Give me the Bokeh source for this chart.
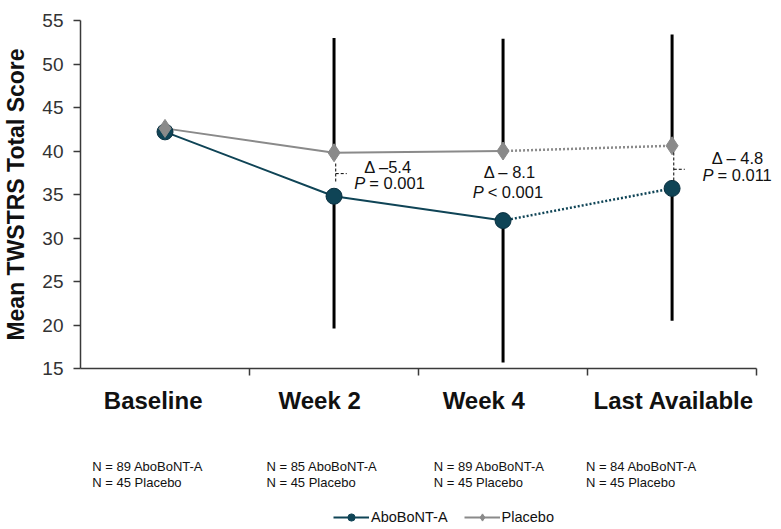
from bokeh.plotting import figure
from bokeh.layouts import column
from bokeh.models import Range1d, FixedTicker, Label, Legend, LegendItem
from bokeh.embed import file_html
from bokeh.resources import INLINE

# ---------------- data ----------------
categories = ["Baseline", "Week 2", "Week 4", "Last Available"]
abo_mean = [42.2, 34.8, 32.0, 35.7]
placebo_mean = [42.6, 39.8, 40.0, 40.6]
placebo_upper = [53.0, 52.9, 53.4]   # Week 2, Week 4, Last Available (upper SD, placebo)
abo_lower = [19.6, 15.7, 20.5]       # Week 2, Week 4, Last Available (lower SD, AboBoNT-A)
n_abo = [89, 85, 89, 84]
n_placebo = [45, 45, 45, 45]
delta_text = ["\u0394 \u20135.4", "\u0394 \u2013 8.1", "\u0394 \u2013 4.8"]
p_text = ["= 0.001", "< 0.001", "= 0.011"]
y_ticks = [15, 20, 25, 30, 35, 40, 45, 50, 55]

FONT = "Liberation Sans"
ABO = "#0f4456"
PLA = "#8a8a8a"
AXC = "#3a3a3a"
TXT = "#111111"

xs = [i + 0.5 for i in range(len(categories))]
label_x = [0.43, 1.415, 2.386, 3.51]   # where the category names sit

xr = Range1d(0, 4.1)

p = figure(width=773, height=420, output_backend="svg", toolbar_location=None,
           x_range=xr, y_range=Range1d(15, 55),
           min_border_left=72, min_border_right=0, min_border_top=20, min_border_bottom=52)
p.outline_line_color = None
p.grid.visible = False

# y axis
ya = p.yaxis[0]
ya.ticker = FixedTicker(ticks=y_ticks)
ya.axis_line_color = AXC
ya.axis_line_width = 1.5
ya.major_tick_line_color = AXC
ya.major_tick_line_width = 1.5
ya.major_tick_out = 7
ya.major_tick_in = 0
ya.minor_tick_line_color = None
ya.major_label_text_font = FONT
ya.major_label_text_font_size = "19px"
ya.major_label_text_color = "#333333"
ya.major_label_standoff = 10
ya.axis_label = "Mean TWSTRS Total Score"
ya.axis_label_text_font = FONT
ya.axis_label_text_font_style = "bold"
ya.axis_label_text_font_size = "23px"
ya.axis_label_text_color = TXT
ya.axis_label_standoff = 10

# x axis
xa = p.xaxis[0]
xa.bounds = (0, 4)
xa.ticker = FixedTicker(ticks=label_x, minor_ticks=[1, 2, 3, 4])
xa.major_label_overrides = {x: c for x, c in zip(label_x, categories)}
xa.axis_line_color = AXC
xa.axis_line_width = 1.5
xa.major_tick_out = 0
xa.major_tick_in = 0
xa.minor_tick_line_color = AXC
xa.minor_tick_line_width = 1.5
xa.minor_tick_out = 7
xa.minor_tick_in = 0
xa.major_label_text_font = FONT
xa.major_label_text_font_style = "bold"
xa.major_label_text_font_size = "24px"
xa.major_label_text_color = TXT
xa.major_label_standoff = 11

# error bars (placebo upward, AboBoNT-A downward)
p.segment(x0=xs[1:], y0=placebo_mean[1:], x1=xs[1:], y1=placebo_upper,
          line_color="black", line_width=3)
p.segment(x0=xs[1:], y0=abo_mean[1:], x1=xs[1:], y1=abo_lower,
          line_color="black", line_width=3)

# lines
p.line(xs[:3], abo_mean[:3], line_color=ABO, line_width=2)
p.line(xs[2:], abo_mean[2:], line_color=ABO, line_width=2.5, line_dash="2 2")
p.line(xs[:3], placebo_mean[:3], line_color=PLA, line_width=2)
p.line(xs[2:], placebo_mean[2:], line_color=PLA, line_width=2.5, line_dash="2 2")

# markers
p.scatter(xs, abo_mean, marker="circle", size=16, fill_color=ABO,
          line_color="#0a3040", line_width=1)
p.scatter(xs, placebo_mean, marker="diamond", size=18, fill_color=PLA,
          line_color=PLA, line_width=1)

# dashed brackets between groups
br_x = [xs[1] + 0.01, xs[3] + 0.01]
br_top = [38.56, 39.83]
br_bot = [36.38, 36.38]
br_mid = [37.4, 37.9]
p.segment(x0=br_x, y0=br_top, x1=br_x, y1=br_bot,
          line_color="black", line_width=1, line_dash="3 2")
p.segment(x0=br_x, y0=br_mid, x1=[x + 0.065 for x in br_x], y1=br_mid,
          line_color="black", line_width=1, line_dash="3 2")

# annotations
d_pos = [(1.82, 38.2), (2.54, 37.6), (3.89, 39.25)]
p_pos = [(1.62, 36.3), (2.32, 35.3), (3.68, 37.2)]
for (dx, dy), t in zip(d_pos, delta_text):
    p.add_layout(Label(x=dx, y=dy, text=t, text_align="center", text_baseline="middle",
                       text_font=FONT, text_font_size="16.5px", text_color=TXT))
for (px_, py_), t in zip(p_pos, p_text):
    p.add_layout(Label(x=px_, y=py_, text="P", text_align="left", text_baseline="middle",
                       text_font=FONT, text_font_style="italic", text_font_size="16.5px",
                       text_color=TXT))
    p.add_layout(Label(x=px_, y=py_, x_offset=15, text=t, text_align="left",
                       text_baseline="middle", text_font=FONT, text_font_size="16.5px",
                       text_color=TXT))

# ---------- lower panel: sample sizes and legend ----------
p2 = figure(width=773, height=109, output_backend="svg", toolbar_location=None,
            x_range=xr, y_range=Range1d(109, 0),
            min_border_left=72, min_border_right=0, min_border_top=0, min_border_bottom=0,
            x_axis_location=None, y_axis_location=None)
p2.outline_line_color = None
p2.grid.visible = False

n_x = [0.07, 1.10, 2.09, 2.99]
for nx, na, npl in zip(n_x, n_abo, n_placebo):
    p2.add_layout(Label(x=nx, y=46, text=f"N = {na} AboBoNT-A", text_align="left",
                        text_baseline="middle", text_font=FONT, text_font_size="13px",
                        text_color=TXT))
    p2.add_layout(Label(x=nx, y=62, text=f"N = {npl} Placebo", text_align="left",
                        text_baseline="middle", text_font=FONT, text_font_size="13px",
                        text_color=TXT))

lg_abo_l = p2.line([-5, -4], [0, 0], line_color=ABO, line_width=2)
lg_abo_s = p2.scatter([-5], [0], marker="circle", size=11, fill_color=ABO, line_color=ABO)
lg_pla_l = p2.line([-5, -4], [0, 0], line_color=PLA, line_width=2)
lg_pla_s = p2.scatter([-5], [0], marker="diamond", size=13, fill_color=PLA, line_color=PLA)

legend = Legend(items=[LegendItem(label="AboBoNT-A", renderers=[lg_abo_l, lg_abo_s]),
                       LegendItem(label="Placebo", renderers=[lg_pla_l, lg_pla_s])],
                orientation="horizontal", location=(253, 3),
                label_text_font=FONT, label_text_font_size="14.5px", label_text_color=TXT,
                glyph_width=36, glyph_height=18, label_height=18, label_standoff=2,
                spacing=16, padding=0, margin=0, border_line_color=None,
                background_fill_alpha=0)
p2.add_layout(legend, "center")

layout = column(p, p2, spacing=0)
open("out.html", "w").write(file_html(layout, INLINE))
